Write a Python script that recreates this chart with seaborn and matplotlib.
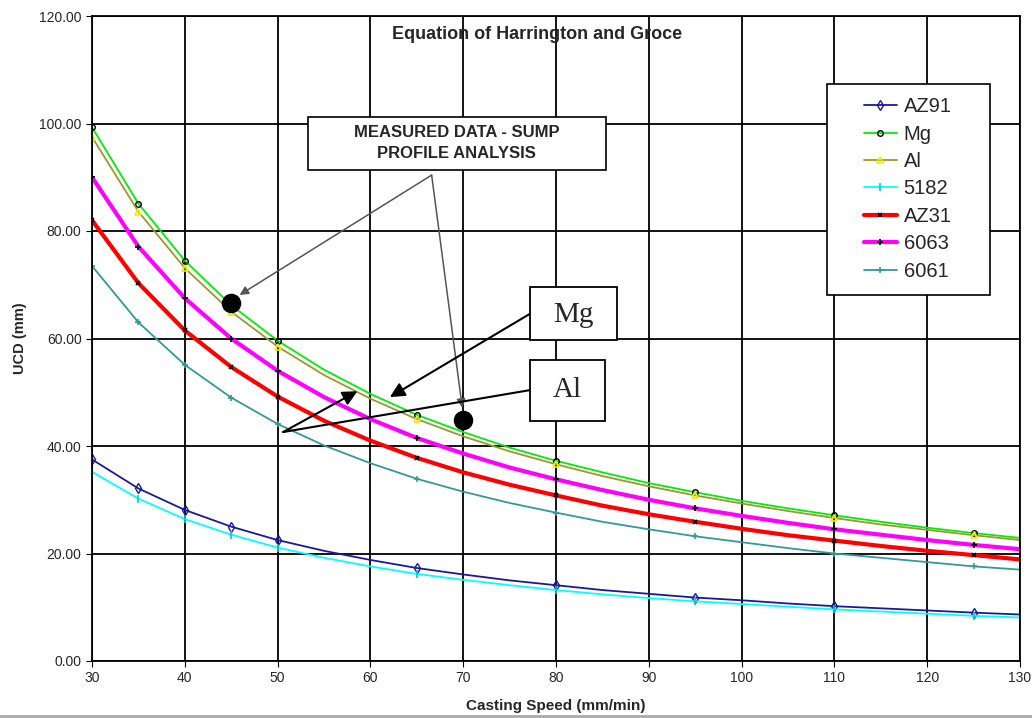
import matplotlib
matplotlib.use("Agg")
import matplotlib.pyplot as plt
import matplotlib.patches as mpatches
import seaborn as sns
import pandas as pd

speed = [30, 35, 40, 45, 50, 55, 60, 65, 70, 75, 80, 85, 90, 95, 100, 105, 110, 115, 120, 125, 130]
az91 = [37.5, 32.1, 28.1, 25.0, 22.5, 20.5, 18.8, 17.3, 16.1, 15.0, 14.1, 13.2, 12.5, 11.8, 11.3, 10.7, 10.2, 9.8, 9.4, 9.0, 8.65]
mg = [99.3, 85.1, 74.5, 66.2, 59.6, 54.2, 49.7, 45.8, 42.6, 39.7, 37.25, 35.1, 33.1, 31.4, 29.8, 28.4, 27.1, 25.9, 24.8, 23.8, 22.9]
al = [97.5, 83.6, 73.1, 65.0, 58.5, 53.2, 48.8, 45.0, 41.8, 39.0, 36.6, 34.4, 32.5, 30.8, 29.3, 27.9, 26.6, 25.4, 24.4, 23.4, 22.5]
a5182 = [35.2, 30.2, 26.4, 23.5, 21.1, 19.2, 17.6, 16.2, 15.1, 14.1, 13.2, 12.4, 11.7, 11.1, 10.6, 10.1, 9.6, 9.2, 8.8, 8.4, 8.1]
az31 = [82.0, 70.3, 61.5, 54.7, 49.2, 44.7, 41.0, 37.8, 35.1, 32.8, 30.8, 28.9, 27.3, 25.9, 24.6, 23.4, 22.4, 21.4, 20.5, 19.7, 18.9]
a6063 = [90.0, 77.1, 67.5, 60.0, 54.0, 49.1, 45.0, 41.5, 38.6, 36.0, 33.8, 31.8, 30.0, 28.4, 27.0, 25.7, 24.5, 23.5, 22.5, 21.6, 20.8]
a6061 = [73.5, 63.0, 55.1, 49.0, 44.1, 40.1, 36.8, 33.9, 31.5, 29.4, 27.6, 25.9, 24.5, 23.2, 22.1, 21.0, 20.0, 19.2, 18.4, 17.6, 17.0]
marker_idx = [0, 1, 2, 3, 4, 7, 10, 13, 16, 19]

measured_x = [45, 70]
measured_y = [66.6, 44.8]

x_ticks = [30, 40, 50, 60, 70, 80, 90, 100, 110, 120, 130]
y_ticks = [0, 20, 40, 60, 80, 100, 120]

series = [
    ("AZ91", az91, dict(color="#1a1a99", lw=1.3, marker="d", ms=5, mfc="none", mec="#1a1a99", mew=1.0)),
    ("Mg", mg, dict(color="#00ee00", lw=1.3, marker="o", ms=4, mfc="none", mec="black", mew=1.0)),
    ("Al", al, dict(color="#999933", lw=1.3, marker="^", ms=5, mfc="none", mec="#eeee00", mew=1.2)),
    ("5182", a5182, dict(color="#00ffff", lw=1.3, marker="|", ms=6, mec="#00cccc", mew=1.2)),
    ("AZ31", az31, dict(color="#ff0000", lw=3.0, marker="x", ms=3.5, mec="black", mew=1.2)),
    ("6063", a6063, dict(color="#ff00ff", lw=3.0, marker="+", ms=4.5, mec="black", mew=1.2)),
    ("6061", a6061, dict(color="#339999", lw=1.3, marker="+", ms=4.5, mec="#339999", mew=1.2)),
]

sns.set_style("white")
plt.rcParams["font.family"] = ["Liberation Sans", "DejaVu Sans"]

W, H = 1032, 718
fig = plt.figure(figsize=(W / 100, H / 100), dpi=100)
ax = fig.add_axes([92 / W, 1 - 661 / H, (1020 - 92) / W, (661 - 16) / H])

for name, vals, st in series:
    df = pd.DataFrame({"speed": speed, "ucd": vals})
    sns.lineplot(data=df, x="speed", y="ucd", ax=ax, label=name, markevery=marker_idx, **st)

ax.set_xlim(30, 130)
ax.set_ylim(0, 120)
ax.set_xticks(x_ticks)
ax.set_yticks(y_ticks)
ax.set_yticklabels([f"{v:.2f}" for v in y_ticks])
ax.grid(True, color="black", lw=1.3)
ax.set_axisbelow(True)
for s in ax.spines.values():
    s.set_color("black")
    s.set_linewidth(1.3)
ax.tick_params(axis="both", labelsize=10, length=4, color="black", direction="out", left=True, bottom=True)
ax.set_xlabel("Casting Speed (mm/min)", fontsize=11, fontweight="bold", labelpad=10)
ax.set_ylabel("UCD (mm)", fontsize=10.5, fontweight="bold", labelpad=9)

ax.text(0.4795, 0.985, "Equation of Harrington and Groce", transform=ax.transAxes,
        ha="center", va="top", fontsize=13, fontweight="bold")

# measured data points
ax.scatter(measured_x, measured_y, s=170, color="black", zorder=6)

# measured data box + arrows
ax.add_patch(mpatches.Rectangle((53.3, 91.3), 32.1, 9.9, fc="white", ec="black", lw=1.2, zorder=7))
ax.text(69.3, 96.4, "MEASURED DATA - SUMP\nPROFILE ANALYSIS", ha="center", va="center",
        fontsize=12, fontweight="heavy", linespacing=1.5, zorder=8)
for tip in [(45.9, 68.1), (69.9, 47.1)]:
    ax.annotate("", xy=tip, xytext=(66.6, 90.4),
                arrowprops=dict(arrowstyle="-|>", color="#555555", lw=1.1, shrinkA=0, shrinkB=0,
                                mutation_scale=13), zorder=7)

serif = ["Liberation Serif", "DejaVu Serif"]
# Mg box
ax.annotate("", xy=(62.1, 49.1), xytext=(77.2, 64.6),
            arrowprops=dict(arrowstyle="-|>", color="black", lw=1.5, shrinkA=0, shrinkB=0,
                            mutation_scale=22), zorder=7)
ax.add_patch(mpatches.Rectangle((77.2, 59.7), 9.4, 9.9, fc="white", ec="black", lw=1.3, zorder=7))
ax.text(81.9, 64.4, "Mg", ha="center", va="center", fontsize=21, family=serif, zorder=8)

# Al box
ax.plot([77.2, 50.6], [50.4, 42.6], color="black", lw=1.5, zorder=7)
ax.annotate("", xy=(58.6, 50.2), xytext=(50.6, 42.6),
            arrowprops=dict(arrowstyle="-|>", color="black", lw=1.5, shrinkA=0, shrinkB=0,
                            mutation_scale=22), zorder=7)
ax.add_patch(mpatches.Rectangle((77.2, 44.7), 8.1, 11.3, fc="white", ec="black", lw=1.3, zorder=7))
ax.text(81.25, 50.4, "Al", ha="center", va="center", fontsize=21, family=serif, zorder=8)

# legend with custom frame
handles, labels = ax.get_legend_handles_labels()
ax.get_legend().remove()
fig.add_artist(mpatches.Rectangle((827 / W, 1 - 295 / H), 163 / W, 211 / H,
                                  transform=fig.transFigure, fc="white", ec="black", lw=1.2, zorder=2))
leg = fig.legend(handles, labels, loc="center", bbox_to_anchor=(908 / W, 1 - 189 / H),
                 fontsize=14.5, frameon=False, handlelength=1.6, labelspacing=0.42,
                 handletextpad=0.35, borderpad=0)
leg.set_zorder(3)

fig.add_artist(plt.Line2D([0, 1], [2 / H, 2 / H], color="#aaaaaa", lw=2, transform=fig.transFigure))

fig.savefig("out.png", dpi=100)
